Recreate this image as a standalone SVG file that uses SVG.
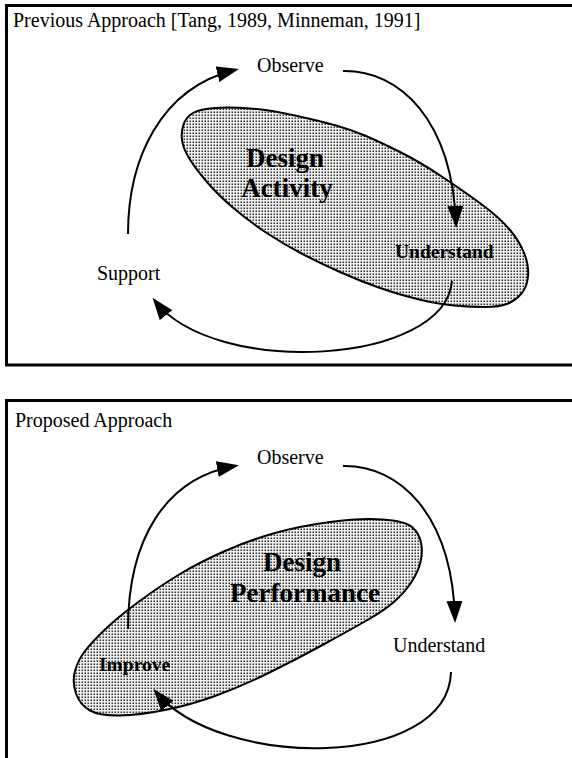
<svg xmlns="http://www.w3.org/2000/svg" width="572" height="758" viewBox="0 0 572 758">
<style>
.frame{fill:none;stroke:#000;stroke-width:3}
.blob{fill:url(#stipple);stroke:#000;stroke-width:2}
.conn{fill:none;stroke:#000;stroke-width:2;marker-end:url(#ah)}
.lbl{font-family:"Liberation Serif","Times New Roman",serif;font-size:20px;fill:#000}
.blbl{font-family:"Liberation Serif","Times New Roman",serif;font-size:19.5px;font-weight:bold;fill:#000}
.big{font-family:"Liberation Serif","Times New Roman",serif;font-size:27px;font-weight:bold;fill:#000;text-anchor:middle}
</style>
<defs>
<pattern id="stipple" width="3" height="3" patternUnits="userSpaceOnUse">
<rect width="3" height="3" fill="#eeeeee"/>
<rect x="0.5" y="0.5" width="1.5" height="1.5" fill="#333"/>
</pattern>
<marker id="ah" viewBox="0 0 22 16" refX="18" refY="8" markerWidth="22" markerHeight="16" markerUnits="userSpaceOnUse" orient="auto">
<path d="M0,0 L22,8 L0,16 Z" fill="#000"/>
</marker>
</defs>
<rect class="frame" x="6.5" y="5.5" width="600" height="359.5"/>
<rect class="frame" x="6.5" y="400.5" width="600" height="400"/>
<text class="lbl" x="13" y="27">Previous Approach [Tang, 1989, Minneman, 1991]</text>
<text class="lbl" x="15" y="427">Proposed Approach</text>
<g id="activity">
<path class="blob" d="M182,140 Q181,132 183.5,124.5 Q186,117 193,113 Q200,109 215,108 Q230,107 250,108.5 Q270,110 295,115.5 Q320,121 336,125.5 Q352,130 366,136 Q380,142 400,152 Q420,162 442.5,177 Q465,192 482.5,205 Q500,218 510,230 Q520,242 524.5,254 Q529,266 528,276.5 Q527,287 521.5,293.5 Q516,300 508,303.5 Q500,307 485,307 Q470,307 454,305.5 Q438,304 419,299.5 Q400,295 380,288 Q360,281 340,272 Q320,263 302.5,254 Q285,245 267.5,233.5 Q250,222 234,208.5 Q218,195 206.5,181.5 Q195,168 189,158 Q183,148 182,140 Z"/>
<text class="big" x="285" y="167">Design</text>
<text class="big" x="287" y="197">Activity</text>
</g>
<g id="performance">
<path class="blob" d="M76,693.5 Q72,682 75,671 Q78,660 85,651 Q92,642 105,629.5 Q118,617 139,601.5 Q160,586 180,574 Q200,562 225,551 Q250,540 275,533 Q300,526 330,522 Q360,518 382.5,519.5 Q405,521 412,527 Q419,533 421,542.5 Q423,552 420.5,562 Q418,572 411.5,582 Q405,592 395,601 Q385,610 367.5,620 Q350,630 322.5,645 Q295,660 267.5,673.5 Q240,687 215,696 Q190,705 165,710 Q140,715 120,715.5 Q100,716 90,710.5 Q80,705 76,693.5 Z"/>
<text class="big" x="302" y="571">Design</text>
<text class="big" x="305" y="602">Performance</text>
</g>
<g id="observe1"><text class="lbl" x="257" y="72">Observe</text></g>
<g id="understand1"><text class="blbl" x="395" y="258">Understand</text></g>
<g id="support1"><text class="lbl" x="97" y="280">Support</text></g>
<g id="observe2"><text class="lbl" x="257" y="464">Observe</text></g>
<g id="understand2"><text class="lbl" x="393" y="652">Understand</text></g>
<g id="improve2"><text class="blbl" x="99" y="671">Improve</text></g>
<g id="connectors">
<path class="conn" d="M128,234 C128,160 160,88 235,70"/>
<path class="conn" d="M343,71 C400,70 452,120 456,224"/>
<path class="conn" d="M452,281 C445,365 215,378 155,301"/>
<path class="conn" d="M128,629 C128,540 165,478 235,466"/>
<path class="conn" d="M343,466 C400,465 452,515 455,619"/>
<path class="conn" d="M451,672 C448,770 220,770 156,692"/>
</g>
</svg>
